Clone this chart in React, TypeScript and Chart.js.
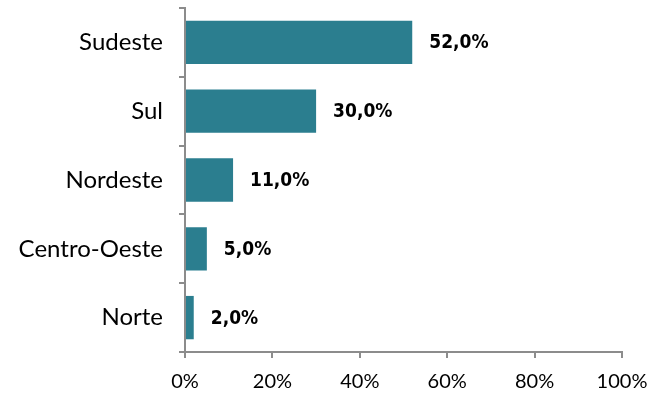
import React, { useEffect, useRef } from "react";
import { Chart, registerables } from "chart.js";

Chart.register(...registerables);

const categories = ["Sudeste", "Sul", "Nordeste", "Centro-Oeste", "Norte"];
const values = [52.0, 30.0, 11.0, 5.0, 2.0];
const xTicks = [0, 20, 40, 60, 80, 100];

const BAR_COLOR = "#2B7E8F";
const AXIS_COLOR = "#8C8C8C";

const labelPlugin = {
  id: "valueLabels",
  afterDatasetsDraw(chart: any) {
    const ctx = chart.ctx;
    const meta = chart.getDatasetMeta(0);
    ctx.save();
    ctx.font = "bold 19px 'DejaVu Sans'";
    ctx.fillStyle = "#000";
    ctx.textAlign = "left";
    ctx.textBaseline = "middle";
    meta.data.forEach((bar: any, i: number) => {
      const v = values[i];
      const txt = v.toFixed(1).replace(".", ",") + "%";
      const w = ctx.measureText(txt).width * 0.9;
      ctx.fillText(txt, bar.x + 17, bar.y + 1, w);
    });
    ctx.restore();
  },
};

export default function App() {
  const ref = useRef<HTMLCanvasElement | null>(null);
  useEffect(() => {
    document.body.style.margin = "0";
    const chart = new Chart(ref.current as HTMLCanvasElement, {
      type: "bar",
      data: {
        labels: categories,
        datasets: [
          {
            data: values,
            backgroundColor: BAR_COLOR,
            borderWidth: 0,
            categoryPercentage: 1,
            barPercentage: 0.63,
          },
        ],
      },
      options: {
        indexAxis: "y",
        animation: false,
        responsive: false,
        maintainAspectRatio: false,
        layout: { padding: { top: 8, right: 33, left: 0, bottom: 0 } },
        plugins: { legend: { display: false }, tooltip: { enabled: false } },
        scales: {
          x: {
            min: 0,
            max: 100,
            afterBuildTicks(axis: any) {
              axis.ticks = xTicks.map((v) => ({ value: v }));
            },
            afterFit(axis: any) {
              axis.height = 405 - 352;
              axis.paddingLeft = 0;
              axis.paddingRight = 0;
            },
            grid: {
              drawOnChartArea: false,
              drawTicks: true,
              tickLength: 6,
              color: AXIS_COLOR,
              lineWidth: 2,
            },
            border: { color: AXIS_COLOR, width: 2 },
            ticks: {
              color: "#000",
              font: { family: "Lato", size: 20 },
              padding: 12,
              callback: (v: any) => v + "%",
            },
          },
          y: {
            afterFit(axis: any) {
              axis.width = 185;
              axis.paddingTop = 0;
              axis.paddingBottom = 0;
            },
            grid: {
              drawOnChartArea: false,
              drawTicks: true,
              tickLength: 6,
              color: AXIS_COLOR,
              lineWidth: 2,
              offset: true,
            },
            border: { color: AXIS_COLOR, width: 2 },
            ticks: {
              color: "#000",
              font: { family: "Lato", size: 24 },
              padding: 16,
            },
          },
        },
      },
      plugins: [labelPlugin],
    });
    return () => chart.destroy();
  }, []);
  return (
    <div style={{ position: "fixed", left: 0, top: 0, width: 655, height: 405 }}>
      <canvas ref={ref} width={655} height={405} />
    </div>
  );
}
